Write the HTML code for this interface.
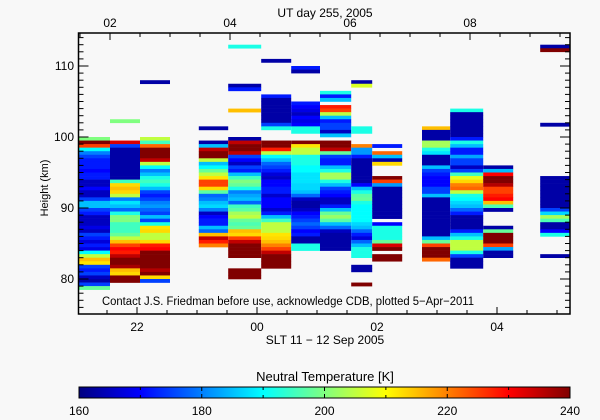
<!DOCTYPE html>
<html><head><meta charset="utf-8"><style>
html,body{margin:0;padding:0;background:#f8f8f8;}
svg{display:block;font-family:"Liberation Sans",sans-serif;}
</style></head><body>
<svg id="chart" width="600" height="420" viewBox="0 0 600 420" xmlns="http://www.w3.org/2000/svg">
<rect x="0" y="0" width="600" height="420" fill="#f8f8f8"/>
<g id="cells"></g>
<g id="axes"></g>
<text x="325" y="17" font-size="12" text-anchor="middle">UT day 255, 2005</text>
<text x="0" y="0" font-size="11" text-anchor="middle" transform="translate(48,188) rotate(-90)">Height (km)</text>
<text x="325" y="344" font-size="12" text-anchor="middle">SLT 11 − 12 Sep 2005</text>
<text x="102" y="305" font-size="11.5" textLength="372" lengthAdjust="spacingAndGlyphs">Contact J.S. Friedman before use, acknowledge CDB, plotted 5−Apr−2011</text>
<text x="325" y="381" font-size="13" text-anchor="middle">Neutral Temperature [K]</text>
<defs><linearGradient id="jet" x1="0" x2="1" y1="0" y2="0">
<stop offset="0" stop-color="#000080"/><stop offset="0.125" stop-color="#0000ff"/>
<stop offset="0.375" stop-color="#00ffff"/><stop offset="0.5" stop-color="#80ff80"/>
<stop offset="0.625" stop-color="#ffff00"/><stop offset="0.875" stop-color="#ff0000"/>
<stop offset="1" stop-color="#800000"/></linearGradient></defs>
<rect x="79" y="387" width="491" height="11" fill="url(#jet)" stroke="#000" stroke-width="1"/>
<g id="cbar"></g>
</svg>
<script>
const colStartUT=[1.47,2.0,2.5,3.48,3.97,4.52,5.02,5.5,6.02,6.37,7.2,7.67,8.22,9.17];
const colEndUT=[2.0,2.5,3.0,3.97,4.52,5.02,5.5,6.02,6.37,6.87,7.67,8.22,8.72,9.67];
const col1=[[0,[200,240,225,190,180,175,172,172,172,170,172,172,165,165,170,165,165,175,185,185,175,172,165,165,165,168,165,175,172,167,172,168,190,205,215,212,175,172,175,165,163,175,198]]];
const col2=[[-5,[200]],[1,[233,175,163,163,163,163,163,163,163,163,163,195,213,215,213,205,180,188,185,178,192,200,200,195,195,195,198,205,215,225,230,228,235,240,240,237,215,213,240,240]]];
const col3=[[-16,[163]],[0,[205,195,222,240,240,240,235,205,190,180,185,192,195,192,185,175,172,175,180,182,178,175,185,175,192,212,213,205,205,213,228,230,240,240,240,240,240,236,240,213,175]]];
const col4=[[-3,[163]],[1,[163,185,235,240,240,205,185,190,198,205,212,225,225,213,197,178,180,185,187,180,165,170,172,172,185,178,215,235,228,220]]];
const col5=[[-26,[192]],[-15,[163,172]],[-8,[215]],[0,[163,235,240,240,235,175,170,165,175,172,185,195,200,198,192,180,183,185,178,195,197,203,205,198,196,198,215,213,225,235,240,240,240,240]],[37,[240,240,240]]];
const col6=[[-22,[163]],[-12,[172,163,163,163,163,163,163,163,175,192]],[1,[240,240,228,205,190,185,178,175,172,167,165,170,170,172,172,166,170,170,170,166,172,185,195,205,205,205,212,213,215,220,225,235,240,240,240,240]]];
const col7=[[-20,[172,163]],[-10,[172,170,168,165,170,168,170,192,192]],[1,[240,212,205,205,192,192,192,190,190,188,188,188,187,187,185,178,165,163,163,165,170,172,175,178,175,170,172,163,163,192,192]]];
const col8=[[-13,[192,172,185,null,228,225,205,185,172,175,175,165,185]],[1,[240,240,235,198,175,172,172,185,192,203,203,192,185,175,172,170,165,165,172,185,198,202,197,185,178,165,163,163,163,163,163]]];
const col9=[[-16,[163,207]],[-3,[192,192]],[2,[220,182,182,172,163,163,163,163,163,163,163,170,185,192,197,198,192,190,190,190,190,190,187,185,178,172,167,178,185,192,192,192]],[36,[163,163]],[41,[240]]];
const col10=[[2,[172,null,222,185,163,213]],[11,[240,225,182,163,163,163,163,163,163,163,163,163,null,170,192,192,192,192,198,233,240,null,240,240]]];
const col11=[[-3,[215,163,163,163]],[1,[203,203,192,188,163,163,163,185,175,172,170,170,170,175,175,185,163,163,163,163,163,163,163,163,163,163,163,185,198,225,240,240,240,222]]];
const col12=[[-8,[192,163,163,163,163,163,163,163,172,192,185,172,172,183,175,175,165,175,195,208,213,220,222,205,192,190,187,185,178,172,163,163,163,163,172,185,192,205,205,205,192,175,163,163,163]]];
const col13=[[8,[163,185,230,240,240,236,225,225,228,230,215,196,163]],[25,[163,198,240,240,240,225,183,163,163]]];
const col14=[[-26,[163,240]],[-4,[163]],[11,[163,163,163,163,163,163,163,163,163,175,187,203,196,163,163,170,192]],[33,[163]]];
const columns=[col1,col2,col3,col4,col5,col6,col7,col8,col9,col10,col11,col12,col13,col14];
const yTicks=[80,90,100,110];
const utTickLabels=["02","04","06","08"];
const utTickHours=[2,4,6,8];
const sltTickLabels=["22","00","02","04"];
const sltTickUT=[2.45,4.45,6.45,8.45];
const cbarTicks=[160,180,200,220,240];

const NS="http://www.w3.org/2000/svg";
const X0=78.5,X1=570,Y0=33,Y1=314;
const xUT=t=>110+(t-2)*60;
const yH=h=>137-(h-100)*7.1;
const tMin=160,tMax=240;
function jet(v){
  let f=Math.max(0,Math.min(1,(v-tMin)/(tMax-tMin)));
  const st=[[0,0,0,128],[0.125,0,0,255],[0.375,0,255,255],[0.5,128,255,128],[0.625,255,255,0],[0.875,255,0,0],[1,128,0,0]];
  for(let i=1;i<st.length;i++){if(f<=st[i][0]){const a=st[i-1],b=st[i],u=(f-a[0])/(b[0]-a[0]);
    return `rgb(${Math.round(a[1]+u*(b[1]-a[1]))},${Math.round(a[2]+u*(b[2]-a[2]))},${Math.round(a[3]+u*(b[3]-a[3]))})`;}}
  return "rgb(128,0,0)";
}
function mk(tag,attrs,parent){const e=document.createElementNS(NS,tag);for(const k in attrs)e.setAttribute(k,attrs[k]);parent.appendChild(e);return e;}
const cells=document.getElementById('cells');
columns.forEach((col,ci)=>{
  const xa=xUT(colStartUT[ci]),xb=xUT(colEndUT[ci]);
  col.forEach(seg=>{
    seg[1].forEach((v,k)=>{
      if(v===null)return;
      const i=seg[0]+k;
      const ya=yH(100-0.5*i),yb=yH(100-0.5*(i+1));
      const r=mk('rect',{x:xa.toFixed(2),y:ya.toFixed(2),width:(xb-xa).toFixed(2),height:(yb-ya+0.3).toFixed(2),fill:jet(v)},cells);
      
      
    });
  });
});
const ax=document.getElementById('axes');
const fr=mk('rect',{x:X0,y:Y0,width:X1-X0,height:Y1-Y0,fill:'none',stroke:'#000','stroke-width':1.5},ax);


// y ticks
for(let h=76;h<=114;h++){
  const y=yH(h),len=(h%10===0)?10:5;
  mk('line',{x1:X0,x2:X0+len,y1:y,y2:y,stroke:'#000'},ax);
  mk('line',{x1:X1,x2:X1-len,y1:y,y2:y,stroke:'#000'},ax);
}
yTicks.forEach(v=>{
  const t=mk('text',{x:74,y:yH(v)+4,'font-size':12,'text-anchor':'end'},ax);t.textContent=v;
  
  
});
// top ticks
for(let t=1.5;t<=9.5;t+=0.5){
  const x=xUT(t),len=(t%2===0)?7:4;
  mk('line',{x1:x,x2:x,y1:Y0,y2:Y0+len,stroke:'#000'},ax);
}
utTickHours.forEach((h,i)=>{
  const t=mk('text',{x:xUT(h),y:27,'font-size':12,'text-anchor':'middle'},ax);t.textContent=utTickLabels[i];
  
  
});
// bottom ticks
for(let t=sltTickUT[0]-1;t<=9.6;t+=0.5){
  const x=xUT(t);if(x<X0||x>X1)continue;
  const major=sltTickUT.some(s=>Math.abs(s-t)<1e-6);
  mk('line',{x1:x,x2:x,y1:Y1,y2:Y1-(major?7:4),stroke:'#000'},ax);
}
sltTickUT.forEach((h,i)=>{
  const t=mk('text',{x:xUT(h),y:331,'font-size':12,'text-anchor':'middle'},ax);t.textContent=sltTickLabels[i];
  
  
});
// colorbar
const cb=document.getElementById('cbar');
const xC=v=>79+(v-tMin)/(tMax-tMin)*491;
for(let v=165;v<240;v+=5){
  const x=xC(v),len=(v%20===0)?4:0; if(len) {mk('line',{x1:x,x2:x,y1:387,y2:391,stroke:'#000'},cb);mk('line',{x1:x,x2:x,y1:398,y2:394,stroke:'#000'},cb);}
}
for(let v=170;v<240;v+=20){const x=xC(v);mk('line',{x1:x,x2:x,y1:387,y2:390,stroke:'#000'},cb);mk('line',{x1:x,x2:x,y1:398,y2:395,stroke:'#000'},cb);}
cbarTicks.forEach(v=>{
  const t=mk('text',{x:xC(v),y:415,'font-size':12,'text-anchor':'middle'},cb);t.textContent=v;
  
  
});
</script>
</body></html>
